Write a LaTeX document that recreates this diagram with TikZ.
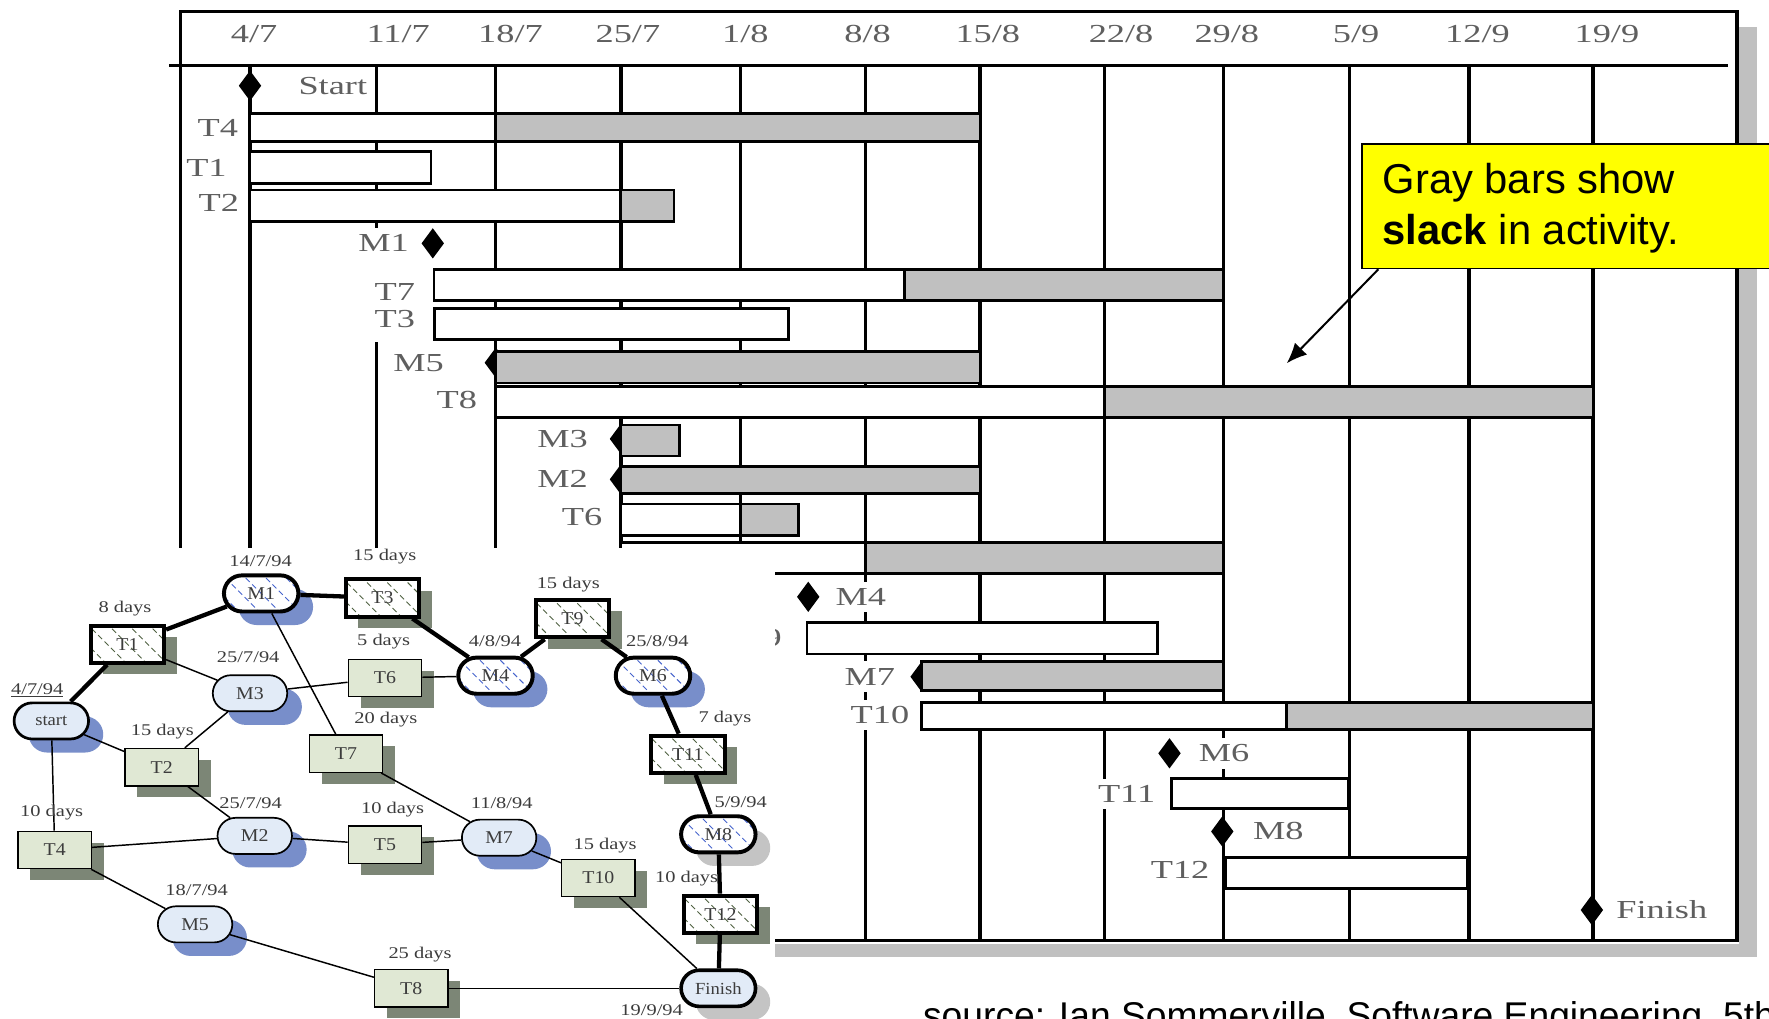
\documentclass[tikz,border=0pt]{standalone}
\usepackage{fontspec}
\setmainfont{Liberation Serif}
\newfontfamily\gfont[FakeStretch=1.4]{Liberation Serif}
\newfontfamily\nfont[FakeStretch=1.25]{Liberation Serif}
\newfontfamily\nnfont[FakeStretch=1.1]{Liberation Serif}
\newfontfamily\sfnt{Liberation Sans}
\usetikzlibrary{shapes.misc,shapes.geometric,arrows.meta,calc}

\definecolor{barGray}{RGB}{192,192,192}
\definecolor{taskFill}{RGB}{224,232,212}
\definecolor{taskShadow}{RGB}{124,134,118}
\definecolor{msFill}{RGB}{226,235,247}
\definecolor{msShadow}{RGB}{120,142,202}
\definecolor{hatchGreen}{RGB}{80,98,66}
\definecolor{hatchBlue}{RGB}{70,100,205}
\definecolor{lightShadow}{RGB}{196,196,196}
\definecolor{calloutYellow}{RGB}{255,255,0}
\definecolor{ganttText}{RGB}{95,95,95}
\definecolor{netText}{RGB}{60,60,60}

\pgfdeclarelayer{gantt}
\pgfdeclarelayer{cover}
\pgfdeclarelayer{shadows}
\pgfdeclarelayer{edges}
\pgfsetlayers{gantt,cover,shadows,edges,main}

\newcommand\hatchlines[1]{%
  \foreach \i in {-72,-54,...,72}{%
    \draw[#1, line width=0.8pt, dash pattern=on 5pt off 3pt]
      ([xshift=\i pt-25pt, yshift=25pt]path picture bounding box.center) -- ++(50pt,-50pt);}}
\newcommand\tkshadow[1]{\fill[taskShadow] ($(#1.center)+(-21.5,-6.5)$) rectangle ($(#1.center)+(43.5,26.5)$);}
\newcommand\msshadow[2]{\fill[#2, rounded corners=16pt] ($(#1.center)+(-20,-4)$) rectangle ($(#1.center)+(46,28)$);}

\tikzset{
  gridline/.style={line width=2.8pt},
  frameline/.style={line width=3pt},
  barW/.style={draw=black, line width=2.6pt, fill=white},
  barG/.style={draw=black, line width=2.6pt, fill=barGray},
  hlabel/.style={font=\gfont\fontsize{23}{23}\selectfont, text=ganttText, inner sep=0pt},
  glabel/.style={font=\gfont\fontsize{23}{23}\selectfont, text=ganttText, fill=white, inner xsep=2pt, inner ysep=0pt, minimum height=27pt},
  msdia/.style={diamond, fill=black, draw=none, inner sep=0pt, minimum width=20pt, minimum height=27pt},
  calltext/.style={font=\sfnt\fontsize{37}{45}\selectfont, inner sep=0pt, text=black},
  task/.style={rectangle, draw=black, line width=1.3pt, fill=taskFill, minimum width=65pt, minimum height=33pt, inner sep=0pt, font=\nnfont\fontsize{16}{16}\selectfont, text=netText},
  crittask/.style={task, line width=3.5pt, fill=white, path picture={\hatchlines{hatchGreen}}},
  ms/.style={rounded rectangle, draw=black, line width=1.5pt, fill=msFill, minimum width=66pt, minimum height=32pt, inner sep=0pt, font=\nnfont\fontsize{16}{16}\selectfont, text=netText},
  critms/.style={ms, line width=3.5pt, fill=white, path picture={\hatchlines{hatchBlue}}},
  nlabel/.style={font=\nfont\fontsize{14.5}{14.5}\selectfont, text=netText, inner sep=0pt},
  crit/.style={line width=3.8pt},
  noncrit/.style={line width=1.3pt}
}

\begin{document}
\begin{tikzpicture}[x=1pt,y=-1pt]
\useasboundingbox (0,0) rectangle (1568,903);

% ================= GANTT CHART =================
\begin{pgfonlayer}{gantt}
\fill[white] (0,0) rectangle (1568,903);
% frame shadow
\fill[barGray] (1541,24) rectangle (1557,848);
\fill[barGray] (687,836.5) rectangle (1557,848);
% grid
\foreach \x in {221.6,333.8,439.5,550.4,656,767,868.7,979.3,1084.6,1196.3,1302,1412}
  \draw[gridline] (\x,58) -- (\x,833.8);
% frame
\draw[frameline] (160,10) -- (1539.6,10) -- (1539.6,833.8) -- (160,833.8) -- cycle;
\draw[frameline] (150,58) -- (1532,58);
% header dates
\node[hlabel] (h1) at (225.3,30) {4/7};
\node[hlabel] (h2) at (353,30) {11/7};
\node[hlabel] (h3) at (452.5,30) {18/7};
\node[hlabel] (h4) at (556.6,30) {25/7};
\node[hlabel] (h5) at (660.7,30) {1/8};
\node[hlabel] (h6) at (769,30) {8/8};
\node[hlabel] (h7) at (875.6,30) {15/8};
\node[hlabel] (h8) at (993.7,30) {22/8};
\node[hlabel] (h9) at (1087.4,30) {29/8};
\node[hlabel] (h10) at (1202,30) {5/9};
\node[hlabel] (h11) at (1309.6,30) {12/9};
\node[hlabel] (h12) at (1424.3,30) {19/9};
% milestone diamonds
\node[msdia] (dStart) at (221.6,76) {};
\node[msdia] (dM1) at (383.6,215.7) {};
\node[msdia] (dM5) at (439.5,321.5) {};
\node[msdia] (dM3) at (550.4,389) {};
\node[msdia] (dM2) at (550.4,424.9) {};
\node[msdia] (dM4) at (716.4,529) {};
\node[msdia] (dM7) at (816.9,599.8) {};
\node[msdia] (dM6) at (1036.6,667.7) {};
\node[msdia] (dM8) at (1083.4,737) {};
\node[msdia] (dFinish) at (1411,806.6) {};
% bars
\draw[barW] (221.6,100.5) rectangle (439.5,125.6);
\draw[barG] (439.5,100.5) rectangle (868.7,125.6);
\draw[barW] (221.6,134.4) rectangle (382,162.5);
\draw[barW] (221.6,168.4) rectangle (550.4,196.5);
\draw[barG] (550.4,168.4) rectangle (597.4,196.5);
\draw[barW] (384.7,238.7) rectangle (801.9,266);
\draw[barG] (801.9,238.7) rectangle (1084.6,266);
\draw[barW] (385,273.3) rectangle (698.8,300.8);
\draw[barG] (439.5,311.7) rectangle (868.7,339.5);
\draw[barW] (439.5,342.5) rectangle (979.3,370);
\draw[barG] (979.3,342.5) rectangle (1412,370);
\draw[barG] (550.4,376.7) rectangle (602,404.2);
\draw[barG] (550.4,413.6) rectangle (868.7,437.3);
\draw[barW] (550.4,446.7) rectangle (656,475);
\draw[barG] (656,446.7) rectangle (708,475);
\draw[barW] (550.4,481) rectangle (767,508);
\draw[barG] (767,481) rectangle (1084.6,508);
\draw[barW] (715.3,552) rectangle (1025.9,579.7);
\draw[barG] (816.9,586.5) rectangle (1084.6,612);
\draw[barW] (816.9,622.8) rectangle (1139.9,647);
\draw[barG] (1139.9,622.8) rectangle (1412,647);
\draw[barW] (1038.3,690) rectangle (1195.3,717);
\draw[barW] (1086.2,760) rectangle (1300.8,787.4);
% row labels
\fill[white] (318,205) rectangle (370,303);
\node[glabel] (lStart) at (295,76) {Start};
\node[glabel] (lT4) at (193,113.7) {T4};
\node[glabel] (lT1) at (183,149) {T1};
\node[glabel] (lT2) at (194,180) {T2};
\node[glabel] (lM1) at (340,215.7) {M1};
\node[glabel] (lT7) at (350,258.5) {T7};
\node[glabel] (lT3) at (350,283) {T3};
\node[glabel] (lM5) at (371,321.5) {M5};
\node[glabel] (lT8) at (405,354.6) {T8};
\node[glabel] (lM3) at (498.7,389) {M3};
\node[glabel] (lM2) at (498.7,424.9) {M2};
\node[glabel] (lT6) at (516,458.6) {T6};
\node[glabel] (lT5) at (516,494) {T5};
\node[glabel] (lM4) at (763,529) {M4};
\node[glabel] (lT9) at (675,565.5) {T9};
\node[glabel] (lM7) at (771,599.8) {M7};
\node[glabel] (lT10) at (780,633.8) {T10};
\node[glabel] (lM6) at (1085,667.7) {M6};
\node[glabel] (lT11) at (998.6,704) {T11};
\node[glabel] (lM8) at (1133,737) {M8};
\node[glabel] (lT12) at (1046,771) {T12};
\node[glabel] (lFinish) at (1473,806.6) {Finish};
% callout
\node[draw=black, fill=calloutYellow, line width=1.3pt, minimum width=400pt, minimum height=110.4pt, anchor=north west, inner sep=0pt] (callout) at (1206.4,127) {};
\node[calltext, anchor=base west] (ct1) at (1225.4,171.4) {Gray bars show};
\node[calltext, anchor=base west] (ct2) at (1225.4,217) {\textbf{slack} in activity.};
\coordinate (slackpt) at (1140.5,322);
\draw[line width=1.8pt, -{Latex[length=18pt,width=15pt]}] ($(callout.south west)+(15.3,0)$) -- (slackpt);
% source
\node[anchor=base west, font=\sfnt\fontsize{33}{33}\selectfont, inner sep=0pt, text=black] (src) at (818,912) {source: Ian Sommerville, Software Engineering, 5th};
\end{pgfonlayer}

% ================= NETWORK =================
\begin{pgfonlayer}{cover}
\fill[white] (0,486) rectangle (687,903);
\end{pgfonlayer}

\node[ms, line width=2.4pt, font=\nnfont\fontsize{15}{15}\selectfont] (start) at (45.5,639) {start};
\node[crittask] (T1) at (113,571) {T1};
\node[critms] (M1) at (231.5,526) {M1};
\node[crittask] (T3) at (339,530) {T3};
\node[ms] (M3) at (221.6,614.5) {M3};
\node[task] (T6) at (341.2,601) {T6};
\node[task] (T2) at (143.3,680) {T2};
\node[task] (T7) at (306.7,668) {T7};
\node[critms] (M4) at (439.2,598.9) {M4};
\node[crittask] (T9) at (507.4,548.4) {T9};
\node[critms] (M6) at (578.8,598.9) {M6};
\node[crittask] (T11) at (609.7,668.5) {T11};
\node[critms] (M8) at (636.7,739.5) {M8};
\node[crittask] (T12) at (638.6,810.3) {T12};
\node[ms, line width=3.2pt, font=\nnfont\fontsize{15}{15}\selectfont] (Finish) at (636.7,876) {Finish};
\node[task] (T4) at (48.5,753.4) {T4};
\node[ms] (M2) at (225.8,740.9) {M2};
\node[task] (T5) at (341.2,748.7) {T5};
\node[ms] (M7) at (442.4,742.5) {M7};
\node[task] (T10) at (530.4,778.2) {T10};
\node[ms] (M5) at (172.9,819.3) {M5};
\node[task] (T8) at (364.5,876) {T8};

% labels
\node[nlabel] (n1) at (33,611.6) {\underline{4/7/94}};
\node[nlabel] (n2) at (110.8,539.2) {8 days};
\node[nlabel] (n3) at (231,497) {14/7/94};
\node[nlabel] (n4) at (341,493.5) {15 days};
\node[nlabel] (n5) at (220,582.6) {25/7/94};
\node[nlabel] (n6) at (340,568.7) {5 days};
\node[nlabel] (n7) at (342,638.2) {20 days};
\node[nlabel] (n8) at (143.9,648.5) {15 days};
\node[nlabel] (n9) at (438.8,568.7) {4/8/94};
\node[nlabel] (n10) at (503.7,518) {15 days};
\node[nlabel] (n11) at (582.6,568.7) {25/8/94};
\node[nlabel] (n12) at (642.6,637.3) {7 days};
\node[nlabel] (n13) at (45.8,720.3) {10 days};
\node[nlabel] (n14) at (222.2,711.5) {25/7/94};
\node[nlabel] (n15) at (348,717.4) {10 days};
\node[nlabel] (n16) at (444.7,711.5) {11/8/94};
\node[nlabel] (n17) at (536.3,749.9) {15 days};
\node[nlabel] (n18) at (656.5,710.6) {5/9/94};
\node[nlabel] (n19) at (608.6,778.5) {10 days};
\node[nlabel] (n20) at (174.3,788.9) {18/7/94};
\node[nlabel] (n21) at (372.3,845.9) {25 days};
\node[nlabel] (n22) at (577.6,895.8) {19/9/94};

\begin{pgfonlayer}{shadows}
\foreach \t in {T1,T3,T6,T2,T7,T9,T11,T12,T4,T5,T10,T8} {\tkshadow{\t}}
\foreach \m in {start,M1,M3,M4,M6,M2,M7,M5} {\msshadow{\m}{msShadow}}
\msshadow{M8}{lightShadow}
\msshadow{Finish}{lightShadow}
\end{pgfonlayer}

\begin{pgfonlayer}{edges}
\draw[crit] (start) -- (T1);
\draw[crit] (T1) -- (M1);
\draw[crit] (M1) -- (T3);
\draw[crit] (T3) -- (M4);
\draw[crit] (M4) -- (T9);
\draw[crit] (T9) -- (M6);
\draw[crit] (M6) -- (T11);
\draw[crit] (T11) -- (M8);
\draw[crit] (M8) -- (T12);
\draw[crit] (T12) -- (Finish);
\draw[noncrit] (T1) -- (M3);
\draw[noncrit] (M1) -- (T7);
\draw[noncrit] (M3) -- (T6);
\draw[noncrit] (T6) -- (M4);
\draw[noncrit] (start) -- (T2);
\draw[noncrit] (T2) -- (M3);
\draw[noncrit] (T2) -- (M2);
\draw[noncrit] (T7) -- (M7);
\draw[noncrit] (start) -- (T4);
\draw[noncrit] (T4) -- (M2);
\draw[noncrit] (M2) -- (T5);
\draw[noncrit] (T5) -- (M7);
\draw[noncrit] (M7) -- (T10);
\draw[noncrit] (T10) -- (Finish);
\draw[noncrit] (T4) -- (M5);
\draw[noncrit] (M5) -- (T8);
\draw[noncrit] (T8) -- (Finish);
\end{pgfonlayer}
\end{tikzpicture}
\end{document}
